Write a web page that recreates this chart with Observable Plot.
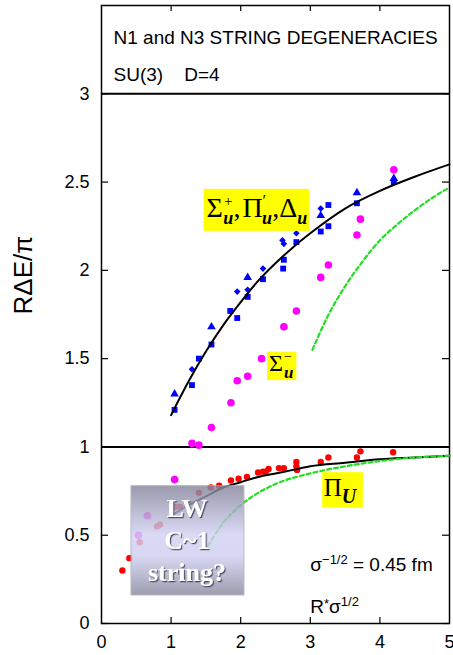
<!DOCTYPE html>
<html><head><meta charset="utf-8">
<script src="https://cdn.jsdelivr.net/npm/d3@7"></script>
<script src="https://cdn.jsdelivr.net/npm/@observablehq/plot@0.6"></script>
<style>body{margin:0;background:#fff}svg{display:block}</style>
</head><body>
<script>
// ---- axes ----
const xTicks = [0, 1, 2, 3, 4, 5];
const xInnerTicks = [1, 2, 3, 4];
const yTicks = [0, 0.5, 1, 1.5, 2, 2.5, 3];
const hLines = [1, 3];

// ---- N3 states: Sigma_u^+, Pi'_u, Delta_u (blue) ----
const blueSquareX = [1.05, 1.30, 1.40, 1.58, 1.85, 1.95, 2.10, 2.32, 2.61, 2.62, 2.80, 3.15, 3.26, 3.26, 3.67, 4.20];
const blueSquareY = [1.21, 1.35, 1.50, 1.58, 1.77, 1.73, 1.85, 1.95, 2.01, 2.06, 2.16, 2.22, 2.25, 2.37, 2.38, 2.50];
const blueDiamondX = [1.30, 1.95, 2.10, 2.32, 2.60, 2.62, 2.80, 3.15];
const blueDiamondY = [1.44, 1.88, 1.89, 2.01, 2.17, 2.15, 2.21, 2.35];
const blueTriangleX = [1.05, 1.58, 2.10, 3.15, 3.67, 4.20];
const blueTriangleY = [1.30, 1.68, 1.96, 2.31, 2.44, 2.52];

// ---- Sigma_u^- (magenta) ----
const magentaX = [0.53, 0.66, 1.05, 1.30, 1.40, 1.58, 1.86, 1.95, 2.10, 2.30, 2.62, 2.80, 3.15, 3.26, 3.67, 3.72, 4.20];
const magentaY = [0.50, 0.61, 0.815, 1.02, 1.01, 1.11, 1.25, 1.375, 1.40, 1.50, 1.68, 1.77, 1.96, 2.03, 2.20, 2.29, 2.57];

// ---- Pi_U (red) ----
const redX = [0.30, 0.40, 0.55, 0.80, 0.84, 1.06, 1.13, 1.40, 1.57, 1.69, 1.86, 1.97, 2.09, 2.25, 2.32, 2.36, 2.40, 2.55, 2.62, 2.80, 2.80, 2.81, 3.15, 3.26, 3.67, 3.72, 4.19];
const redY = [0.30, 0.37, 0.46, 0.55, 0.56, 0.66, 0.66, 0.74, 0.77, 0.78, 0.81, 0.82, 0.83, 0.855, 0.86, 0.86, 0.875, 0.88, 0.88, 0.915, 0.89, 0.87, 0.915, 0.94, 0.94, 0.975, 0.97];

// ---- string curves (solid black) ----
const n3CurveX = [1.0, 1.25, 1.5, 1.75, 2.0, 2.25, 2.5, 2.75, 3.0, 3.5, 4.0, 4.5, 5.0];
const n3CurveY = [1.18, 1.37, 1.54, 1.69, 1.82, 1.94, 2.04, 2.13, 2.21, 2.35, 2.45, 2.53, 2.60];
const n1CurveX = [1.0, 1.25, 1.5, 1.75, 2.0, 2.25, 2.5, 2.75, 3.0, 3.5, 4.0, 4.5, 5.0];
const n1CurveY = [0.61, 0.67, 0.72, 0.77, 0.80, 0.83, 0.85, 0.87, 0.89, 0.91, 0.93, 0.94, 0.95];

// ---- expansion curves (green dashed) ----
const n3DashX = [3.03, 3.25, 3.5, 3.75, 4.0, 4.25, 4.5, 4.75, 5.0];
const n3DashY = [1.55, 1.74, 1.91, 2.05, 2.17, 2.26, 2.34, 2.41, 2.47];
const n1DashX = [1.53, 1.75, 2.0, 2.25, 2.5, 3.0, 3.5, 4.0, 4.5, 5.0];
const n1DashY = [0.44, 0.57, 0.67, 0.74, 0.79, 0.85, 0.89, 0.92, 0.94, 0.95];

const zip = (xs, ys) => xs.map((x, i) => ({x, y: ys[i]}));

const W = 453, H = 655, ML = 101, MR = 4, MT = 5, MB = 32;
const FW = W - ML - MR, FH = H - MT - MB;
const SANS = "'Liberation Sans', Arial, Helvetica, sans-serif";
const SERIF = "'Liberation Serif', 'Times New Roman', serif";
const GREEN = "#1fe01f";

const svg = Plot.plot({
  width: W, height: H,
  marginLeft: ML, marginRight: MR, marginTop: MT, marginBottom: MB,
  style: {fontFamily: SANS, fontSize: "18px", background: "white", color: "black", overflow: "visible"},
  x: {domain: [0, 5], label: null},
  y: {domain: [0, 3.5], label: null},
  marks: [
    Plot.axisX(xTicks, {tickSize: 0, tickPadding: 12, fontSize: 18, label: null, tickFormat: d => String(d)}),
    Plot.axisY(yTicks, {tickSize: 0, tickPadding: 12, fontSize: 18, label: null, tickFormat: d => String(d)}),
    Plot.tickY(yTicks, {y: d => d, insetRight: FW - 7, strokeWidth: 1.2}),
    Plot.tickY(yTicks, {y: d => d, insetLeft: FW - 7, strokeWidth: 1.2}),
    Plot.tickX(xInnerTicks, {x: d => d, insetBottom: FH - 6, strokeWidth: 1.2}),
    Plot.tickX(xInnerTicks, {x: d => d, insetTop: FH - 6, strokeWidth: 1.2}),
    Plot.ruleY(hLines, {strokeWidth: 2}),
    Plot.frame({strokeWidth: 1.5}),
    // points
    Plot.dot(zip(redX, redY), {x: "x", y: "y", r: 3.2, fill: "#ff0000"}),
    Plot.dot(zip(magentaX, magentaY), {x: "x", y: "y", r: 3.8, fill: "#ff00ff"}),
    Plot.dot(zip(blueSquareX, blueSquareY), {x: "x", y: "y", symbol: "square", r: 3.3, fill: "#0000ff"}),
    Plot.dot(zip(blueDiamondX, blueDiamondY), {x: "x", y: "y", symbol: "diamond2", r: 3.0, fill: "#0000ff"}),
    Plot.dot(zip(blueTriangleX, blueTriangleY), {x: "x", y: "y", symbol: "triangle", r: 3.2, fill: "#0000ff"}),
    // curves
    Plot.line(zip(n3CurveX, n3CurveY), {x: "x", y: "y", curve: "monotone-x", stroke: "black", strokeWidth: 2}),
    Plot.line(zip(n1CurveX, n1CurveY), {x: "x", y: "y", curve: "monotone-x", stroke: "black", strokeWidth: 2}),
    Plot.line(zip(n3DashX, n3DashY), {x: "x", y: "y", curve: "monotone-x", stroke: GREEN, strokeWidth: 2.2, strokeDasharray: "4,3"}),
    Plot.line(zip(n1DashX, n1DashY), {x: "x", y: "y", curve: "monotone-x", stroke: GREEN, strokeWidth: 2.2, strokeDasharray: "4,3"}),
    // title
    Plot.text(["N1 and N3 STRING DEGENERACIES"], {text: d => d, frameAnchor: "top-left", dx: 12, dy: 38.3, lineAnchor: "bottom", textAnchor: "start", fontSize: 19, fontFamily: SANS}),
    Plot.text(["SU(3)\u00a0\u00a0\u00a0\u00a0D=4"], {text: d => d, frameAnchor: "top-left", dx: 12, dy: 75.5, lineAnchor: "bottom", textAnchor: "start", fontSize: 19, fontFamily: SANS}),
    // y label
    Plot.text(["RΔE/π"], {text: d => d, frameAnchor: "left", dx: -78, rotate: -90, fontSize: 26, fontFamily: SANS}),
    // inner annotations
    Plot.text([{x: 3.0, y: 0.30, t: "#sigma"}], {x: "x", y: "y", text: "t", textAnchor: "start", lineAnchor: "bottom", fontSize: 19, fontFamily: SANS}),
    Plot.text([{x: 3.0, y: 0.057, t: "#rsigma"}], {x: "x", y: "y", text: "t", textAnchor: "start", lineAnchor: "bottom", fontSize: 19, fontFamily: SANS}),
    // LW box text
    Plot.text([{x: 1.228, y: 0.243, t: "LW\nC~1\nstring?"}], {x: "x", y: "y", text: "t", textAnchor: "middle", lineAnchor: "bottom", lineHeight: 1.23, fontSize: 26, fontWeight: "bold", fontFamily: SERIF, fill: "white"}),
    // state labels
    Plot.text([{x: 1.51, y: 2.303, t: "#n3"}], {x: "x", y: "y", text: "t", textAnchor: "start", lineAnchor: "bottom", fontSize: 28, fontFamily: SERIF}),
    Plot.text([{x: 2.407, y: 1.432, t: "#sigmaminus"}], {x: "x", y: "y", text: "t", textAnchor: "start", lineAnchor: "bottom", fontSize: 24, fontFamily: SERIF}),
    Plot.text([{x: 3.194, y: 0.724, t: "#piu"}], {x: "x", y: "y", text: "t", textAnchor: "start", lineAnchor: "bottom", fontSize: 25, fontFamily: SERIF})
  ]
});
document.body.append(svg);

const NS = "http://www.w3.org/2000/svg";
function findText(key) {
  return [...svg.querySelectorAll("text")].find(t => t.textContent === key);
}
function rich(key, parts) {
  const t = findText(key);
  if (!t) return null;
  t.textContent = "";
  for (const p of parts) {
    const s = document.createElementNS(NS, "tspan");
    s.textContent = p.t;
    for (const [k, v] of Object.entries(p)) if (k !== "t") s.setAttribute(k, v);
    t.appendChild(s);
  }
  return t;
}
function boxBehind(t, [pl, pr, pt, pb], attrs) {
  const bb = t.getBBox();
  const r = document.createElementNS(NS, "rect");
  r.setAttribute("x", bb.x - pl);
  r.setAttribute("y", bb.y - pt);
  r.setAttribute("width", bb.width + pl + pr);
  r.setAttribute("height", bb.height + pt + pb);
  const tr = t.getAttribute("transform");
  if (tr) r.setAttribute("transform", tr);
  for (const [k, v] of Object.entries(attrs)) r.setAttribute(k, v);
  t.parentNode.insertBefore(r, t);
  return r;
}

const sub = {"font-style": "italic", "font-weight": "bold"};
rich("#sigma", [
  {t: "σ"},
  {t: "−1/2", "font-size": 13, dy: -7},
  {t: " = 0.45 fm", dy: 7}
]);
rich("#rsigma", [
  {t: "R"},
  {t: "*", "font-size": 13, dy: -5},
  {t: "σ", dy: 5},
  {t: "1/2", "font-size": 13, dy: -7}
]);
const tN3 = rich("#n3", [
  {t: "Σ"},
  {t: "+", "font-size": 15, dy: -11, dx: 1},
  {t: "u", "font-size": 18, ...sub, dx: -9, dy: 18},
  {t: ",", dy: -7},
  {t: "Π", dx: 2},
  {t: "′", "font-size": 16, dy: -11},
  {t: "u", "font-size": 18, ...sub, dx: -4, dy: 18},
  {t: ",", dy: -7},
  {t: "Δ"},
  {t: "u", "font-size": 18, ...sub, dy: 7}
]);
const tSm = rich("#sigmaminus", [
  {t: "Σ"},
  {t: "−", "font-size": 14, dy: -10, dx: 1},
  {t: "u", "font-size": 17, ...sub, dx: -8, dy: 17}
]);
const tPi = rich("#piu", [
  {t: "Π"},
  {t: "U", "font-size": 20, ...sub, dy: 7}
]);

if (tN3) boxBehind(tN3, [3, 2, 3, 3], {fill: "#ffff00", stroke: "none"});
if (tSm) boxBehind(tSm, [2, 3, -3, -1.5], {fill: "#ffff00", stroke: "none"});
if (tPi) boxBehind(tPi, [1.6, 5, 1.5, 1], {fill: "#ffff00", stroke: "none"});

// gradient box for LW text
const defs = d3.select(svg).insert("defs", ":first-child");
const grad = defs.append("linearGradient").attr("id", "lwgrad").attr("x1", 0).attr("y1", 0).attr("x2", 0).attr("y2", 1);
[[0, "#85859b"], [0.45, "#d2d2f4"], [0.65, "#cfcff0"], [1, "#88889e"]].forEach(([o, c]) =>
  grad.append("stop").attr("offset", o).attr("stop-color", c));
const flt = defs.append("filter").attr("id", "lwshadow").attr("x", "-20%").attr("y", "-20%").attr("width", "140%").attr("height", "140%");
flt.append("feDropShadow").attr("dx", 1.2).attr("dy", 1.2).attr("stdDeviation", 0.5).attr("flood-color", "#3a3a58").attr("flood-opacity", 0.9);

const tLW = [...svg.querySelectorAll("text")].find(t => t.textContent.startsWith("LW"));
if (tLW) {
  boxBehind(tLW, [17, 18, 8, 8.4], {fill: "url(#lwgrad)", opacity: 0.82, stroke: "#a8a8bc", "stroke-width": 1});
  tLW.setAttribute("filter", "url(#lwshadow)");
}
</script>
</body></html>
